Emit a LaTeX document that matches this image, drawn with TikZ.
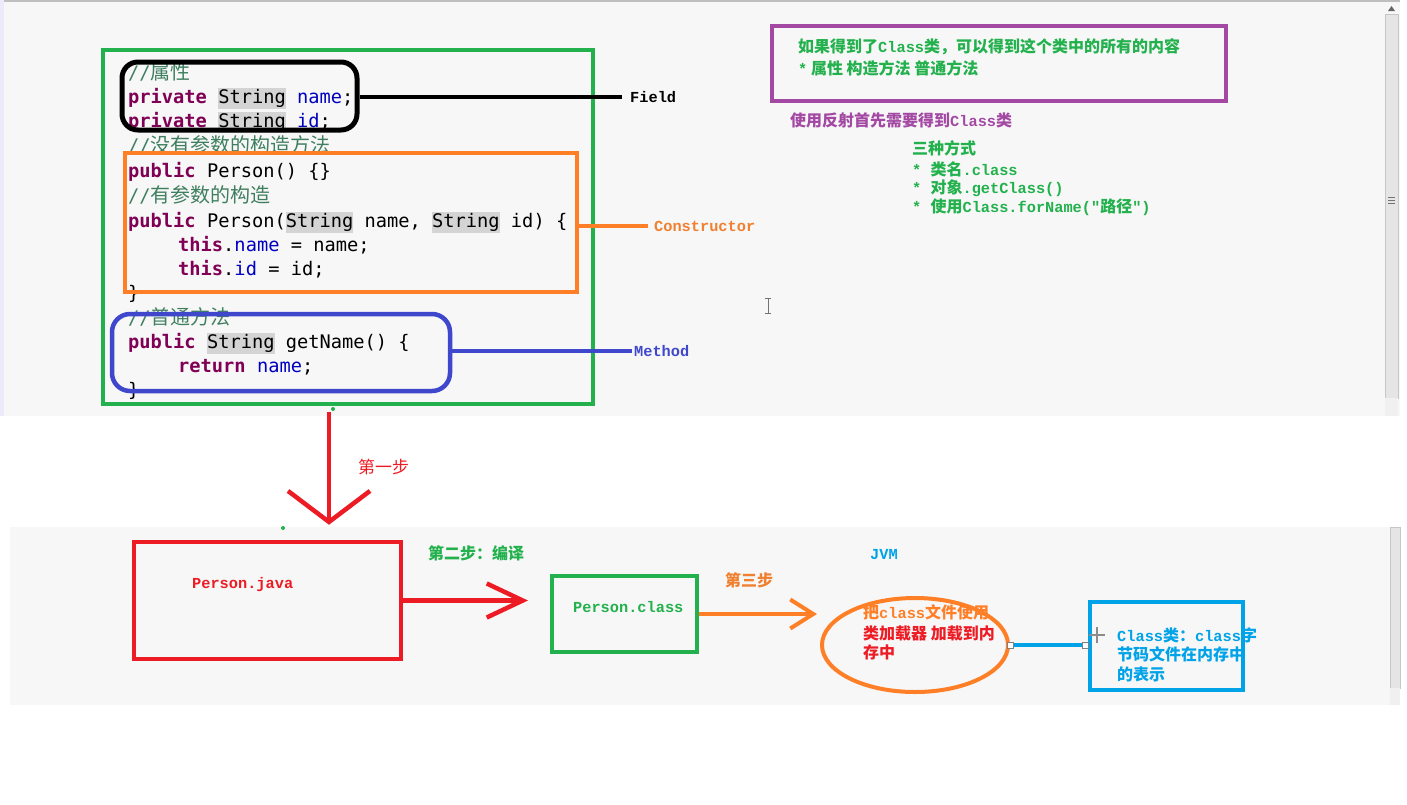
\documentclass[tikz,border=0pt]{standalone}
\usepackage{fontspec}
\usepackage{xcolor}
\setmonofont{DejaVu Sans Mono}
\newfontfamily\cjk{Noto Sans CJK SC}
\newfontfamily\lab{Liberation Mono}
\usetikzlibrary{arrows.meta,shapes.geometric}

\definecolor{grn}{RGB}{34,177,76}
\definecolor{org}{RGB}{255,127,39}
\definecolor{orgtxt}{RGB}{240,128,48}
\definecolor{blu}{RGB}{63,72,204}
\definecolor{pur}{RGB}{163,73,164}
\definecolor{rd}{RGB}{237,28,36}
\definecolor{cyn}{RGB}{0,162,232}
\definecolor{kwc}{RGB}{127,0,85}
\definecolor{fldc}{RGB}{0,0,192}
\definecolor{cmtc}{RGB}{63,127,95}
\definecolor{hlc}{RGB}{212,212,212}
\definecolor{panelc}{RGB}{247,247,247}

\newcommand\codefont{\ttfamily\fontsize{18.7}{24}\selectfont}
\newcommand\notefont{\cjk\bfseries\fontsize{16}{20}\selectfont}
\newcommand\tagfont{\lab\bfseries\fontsize{15.3}{18}\selectfont}
\newcommand\latn[1]{{\lab\fontsize{15.3}{20}\selectfont #1}}
\newcommand\kw[1]{{\color{kwc}\bfseries #1}}
\newcommand\fld[1]{{\color{fldc}#1}}
\newcommand\cmt[1]{{\color{cmtc}//{\cjk\fontsize{20}{24}\selectfont #1}}}
\newcommand\hstr{{\setlength{\fboxsep}{0pt}\colorbox{hlc}{\rule[-5pt]{0pt}{21pt}String}}}
\newcommand\indnt{\hspace*{50pt}}

\tikzset{
  codeline/.style={anchor=west, inner sep=0pt, text height=14pt, text depth=5pt, font=\codefont},
  note/.style={anchor=west, inner sep=0pt, font=\notefont},
  tag/.style={anchor=west, inner sep=0pt, font=\tagfont},
  frame/.style={draw, line width=4pt, inner sep=0pt},
  link/.style={line width=4.5pt},
  redarrow/.style={draw=rd, line width=4.5pt},
  handle/.style={draw=gray, fill=white, line width=0.8pt, inner sep=0pt, minimum size=6pt},
  scroll/.style={fill=black!10, draw=black!22, line width=0.8pt}
}

\begin{document}
\begin{tikzpicture}[x=1pt,y=-1pt]
  \useasboundingbox (0,0) rectangle (1407,804);
  \fill[white] (0,0) rectangle (1407,804);

  % Panel 1
  \fill[panelc] (0,0) rectangle (1400,416);
  \draw[black!25, line width=1.5pt] (0,1) -- (1400,1);
  \fill[black!12!blue!8] (0,0) rectangle (4,416);
  \draw[scroll] (1385,14) rectangle (1398,398);
  \fill[black!6] (1385,398) rectangle (1398,416);
  \fill[black!60] (1388,11) -- (1391.5,6) -- (1395,11) -- cycle;
  \foreach \g in {197,200,203} {
    \draw[black!55, line width=0.8pt] (1388,\g) -- (1395,\g);
  }

  % Code
  \foreach \y/\val in {
      72/{\cmt{属性}},
      96/{\kw{private} \hstr\ \fld{name};},
      120/{\kw{private} \hstr\ \fld{id};},
      145/{\cmt{没有参数的构造方法}},
      170/{\kw{public} Person() \{\}},
      195/{\cmt{有参数的构造}},
      220/{\kw{public} Person(\hstr\ name, \hstr\ id) \{},
      244/{\indnt\kw{this}.\fld{name} = name;},
      268/{\indnt\kw{this}.\fld{id} = id;},
      292/{\}},
      317/{\cmt{普通方法}},
      341/{\kw{public} \hstr\ getName() \{},
      365/{\indnt\kw{return} \fld{name};},
      389/{\}}
    } {
    \node[codeline] (code\y) at (128,\y+3) {\val};
  }

  \node[frame, draw=grn, minimum width=490, minimum height=354] (codebox) at (348,227) {};
  \node[frame, draw=black, line width=5pt, rounded corners=16pt, minimum width=235, minimum height=68] (fieldbox) at (239.5,96) {};
  \node[frame, draw=org, minimum width=452, minimum height=139] (ctorbox) at (351,222.5) {};
  \node[frame, draw=blu, line width=4.5pt, rounded corners=18pt, minimum width=338, minimum height=77] (methbox) at (281,352.5) {};

  \node[tag, text=black] (fieldlbl) at (630,97) {Field};
  \node[tag, text=orgtxt] (ctorlbl) at (654,226) {Constructor};
  \node[tag, text=blu] (methlbl) at (634,351) {Method};
  \draw[link, black, shorten >=8pt] (fieldbox.east |- fieldlbl.west) -- (fieldlbl.west);
  \draw[link, org, shorten >=6pt] (ctorbox.east |- ctorlbl.west) -- (ctorlbl.west);
  \draw[link, blu, shorten >=2pt] (methbox.east |- methlbl.west) -- (methlbl.west);

  % Notes
  \node[frame, draw=pur, line width=4.5pt, minimum width=454, minimum height=75] (notebox) at (999,63.5) {};
  \node[note, text=grn] (note1) at (798,47) {如果得到了\latn{Class}类，可以得到这个类中的所有的内容};
  \node[note, text=grn] (note2) at (798,68) {\latn{*} 属性 构造方法 普通方法};
  \node[note, text=pur] (note3) at (790,120) {使用反射首先需要得到\latn{Class}类};
  \node[note, text=grn] (way0) at (912,148) {三种方式};
  \foreach \y/\val in {
      169/{\latn{* }类名\latn{.class}},
      188/{\latn{* }对象\latn{.getClass()}},
      207/{\latn{* }使用\latn{Class.forName("}路径\latn{")}}
    } {
    \node[note, text=grn] (way\y) at (912,\y) {\val};
  }

  % cursor
  \draw[black!55, line width=1pt] (768,298) -- (768,313)
    (765,298) -- (771,298) (765,313) -- (771,313);

  % Panel 2
  \fill[panelc] (10,527) rectangle (1400,705);
  \draw[scroll] (1390,527) rectangle (1400,688);
  \fill[black!6] (1390,688) rectangle (1400,705);

  \node[frame, draw=rd, line width=4.5pt, minimum width=267, minimum height=117] (javabox) at (267.5,600.5) {};
  \node[tag, text=rd] (javatxt) at (192,585) {Person.java};
  \node[frame, draw=grn, minimum width=145, minimum height=76] (classbox) at (624.5,614) {};
  \node[tag, text=grn] (classtxt) at (573,607) {Person.class};
  \node[ellipse, draw=org, line width=4pt, inner sep=0pt, minimum width=186, minimum height=94] (jvm) at (915,645) {};
  \node[tag, text=cyn] (jvmlbl) at (870,555) {JVM};
  \node[note, text=org] (jvm1) at (863,612) {把\latn{class}文件使用};
  \node[note, text=rd] (jvm2) at (863,633) {类加载器 加载到内};
  \node[note, text=rd] (jvm3) at (863,652) {存中};
  \node[frame, draw=cyn, minimum width=153, minimum height=88] (clsbox) at (1166.5,646) {};
  \node[note, text=cyn] (cls1) at (1117,635) {\latn{Class}类：\latn{class}字};
  \node[note, text=cyn] (cls2) at (1117,654) {节码文件在内存中};
  \node[note, text=cyn] (cls3) at (1117,674) {的表示};

  % Steps
  \node[anchor=west, inner sep=0pt, text=rd, font=\cjk\fontsize{17}{20}\selectfont] (step1) at (358,467) {第一步};
  \node[note, text=grn] (step2) at (428,553) {第二步：编译};
  \node[note, text=orgtxt] (step3) at (725,580) {第三步};

  \draw[redarrow, -{Straight Barb[length=31pt,width=82pt]}, shorten <=6pt, shorten >=15pt]
    (codebox.south -| 329,0) -- (javabox.north -| 329,0);
  \draw[redarrow, -{Straight Barb[length=36pt,width=34pt]}, shorten >=22pt]
    (javabox.east) -- (javabox.east -| classbox.west);
  \draw[link, org, line width=4pt, -{Straight Barb[length=23pt,width=29pt]}, shorten >=3pt]
    (classbox.east) -- (classbox.east -| jvm.west);
  \draw[link, cyn] (jvm.east) -- (jvm.east -| clsbox.west);
  \node[handle] (hdl1) at (jvm.east) {};
  \node[handle] (hdl2) at ([xshift=-3pt]jvm.east -| clsbox.west) {};

  \fill[grn] (333,409) circle (2);
  \fill[grn] (283,528) circle (2);

  % crosshair
  \draw[black!45, line width=1.2pt] (1089,635) -- (1105,635) (1097,627) -- (1097,643);
\end{tikzpicture}
\end{document}
